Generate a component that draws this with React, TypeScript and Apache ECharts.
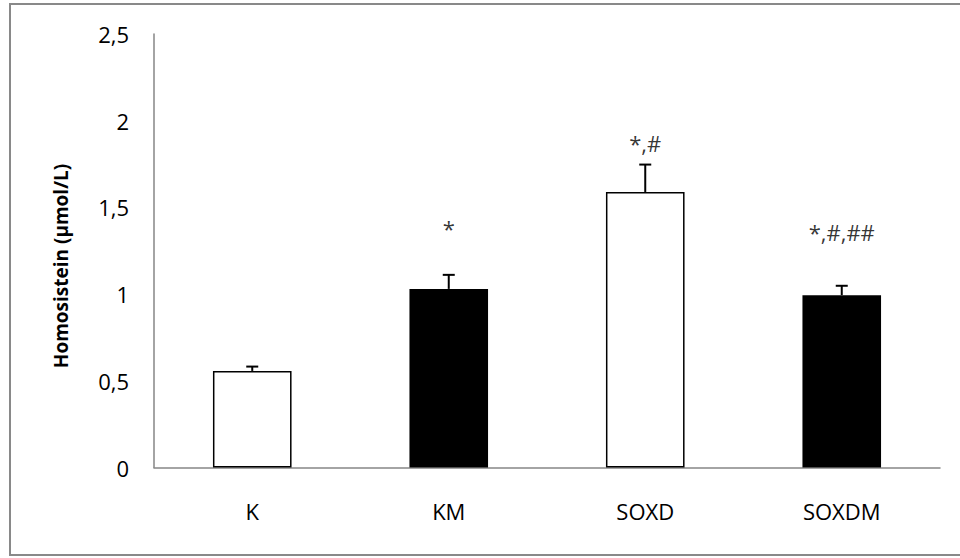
import React, { useEffect, useRef } from "react";
import * as echarts from "echarts";

const CATEGORIES = ["K", "KM", "SOXD", "SOXDM"];
const MEANS = [0.557, 1.03, 1.589, 0.994];
const ERR_TOPS = [0.582, 1.111, 1.747, 1.048];
const ANNOT_TEXT = ["", "*", "*,#", "*,#,##"];
const ANNOT_Y = [null, 1.38, 1.87, 1.36];
const Y_TICK_LABELS = ["0", "0,5", "1", "1,5", "2", "2,5"];
const Y_TITLE = "Homosistein (µmol/L)";

const FONT = "'Open Sans', 'Noto Sans', sans-serif";

export default function App() {
  const ref = useRef<HTMLDivElement>(null);
  useEffect(() => {
    if (!ref.current) return;
    const chart = echarts.init(ref.current, null, { renderer: "svg" });
    const axisColor = "#868686";
    chart.setOption({
      animation: false,
      backgroundColor: "#ffffff",
      grid: { left: 154, right: 20, top: 34, bottom: 90.5, containLabel: false },
      xAxis: {
        type: "category",
        data: CATEGORIES,
        axisLine: { show: true, lineStyle: { color: axisColor, width: 1.5 } },
        axisTick: { show: false },
        axisLabel: { color: "#000", fontSize: 22, fontFamily: FONT, margin: 32 },
      },
      yAxis: {
        type: "value",
        min: 0,
        max: 2.5,
        interval: 0.5,
        axisLine: { show: true, lineStyle: { color: axisColor, width: 1.5 } },
        axisTick: { show: false },
        splitLine: { show: false },
        axisLabel: {
          color: "#000",
          fontSize: 22,
          fontFamily: FONT,
          margin: 25,
          formatter: (v: number) => Y_TICK_LABELS[Math.round(v / 0.5)] ?? String(v),
        },
      },
      graphic: [
        {
          type: "rect",
          shape: { x: 10, y: 4, width: 980, height: 551 },
          style: { fill: "none", stroke: "#898989", lineWidth: 2 },
          silent: true,
        },
        {
          type: "text",
          x: 61,
          y: 266,
          rotation: Math.PI / 2,
          style: {
            text: Y_TITLE,
            fontSize: 19,
            fontWeight: "bold",
            fontFamily: FONT,
            fill: "#000",
            textAlign: "center",
            textVerticalAlign: "middle",
          },
        },
      ],
      series: [
        {
          type: "bar",
          barWidth: "40%",
          data: MEANS.map((v, i) => ({
            value: v,
            itemStyle:
              i % 2 === 0
                ? { color: "#ffffff", borderColor: "#000000", borderWidth: 1.5 }
                : { color: "#000000", borderColor: "#000000", borderWidth: 0 },
          })),
          z: 2,
        },
        {
          type: "custom",
          data: MEANS.map((m, i) => [i, m, ERR_TOPS[i]]),
          renderItem: (params: any, api: any) => {
            const i = api.value(0);
            const base = api.coord([i, api.value(1)]);
            const top = api.coord([i, api.value(2)]);
            const half = 6;
            return {
              type: "group",
              children: [
                {
                  type: "line",
                  shape: { x1: base[0], y1: base[1], x2: top[0], y2: top[1] },
                  style: { stroke: "#000", lineWidth: 2 },
                },
                {
                  type: "line",
                  shape: { x1: top[0] - half, y1: top[1], x2: top[0] + half, y2: top[1] },
                  style: { stroke: "#000", lineWidth: 2 },
                },
              ],
            };
          },
          z: 3,
        },
        {
          type: "scatter",
          symbolSize: 0,
          data: ANNOT_Y.map((y, i) => (y == null ? [i, null] : [i, y])),
          label: {
            show: true,
            position: "inside",
            color: "#000",
            fontSize: 22,
            fontFamily: FONT,
            formatter: (p: any) => ANNOT_TEXT[p.dataIndex],
          },
          z: 4,
        },
      ],
    });
    return () => chart.dispose();
  }, []);
  return (
    <div
      ref={ref}
      style={{ position: "fixed", left: 0, top: 0, width: 960, height: 558 }}
    />
  );
}
